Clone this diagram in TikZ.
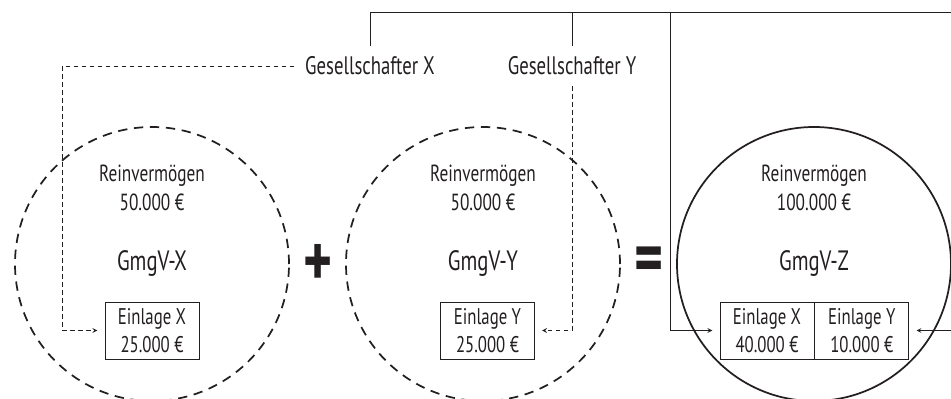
\documentclass[tikz,border=0pt]{standalone}
\usepackage{fontspec}
\usepackage{xcolor}
\setmainfont[FakeStretch=0.74]{PT Sans}
\usetikzlibrary{calc, positioning}

\definecolor{tinte}{HTML}{231F20}

\begin{document}
\begin{tikzpicture}[>=stealth, x=0.75pt, y=-0.75pt, color=tinte,
    kreis/.style={circle, minimum size=205.5pt, inner sep=0pt, line width=1.3pt,
        font=\fontsize{21}{24}\selectfont},
    teilkreis/.style={kreis, draw, dash pattern=on 7pt off 5pt},
    vermoegen/.style={align=center, font=\fontsize{17.5}{21.75}\selectfont},
    einlage/.style={draw, line width=0.6pt, minimum width=70.5pt, minimum height=42.75pt,
        inner sep=0pt, align=center, font=\fontsize{17}{21}\selectfont},
    gesellschafter/.style={inner sep=8pt, font=\fontsize{19}{22}\selectfont},
    verbindung/.style={line width=0.6pt, ->, shorten >=5.5pt},
    gestrichelt/.style={verbindung, dash pattern=on 3.5pt off 2.5pt},
    zeichen/.style={font=\fontsize{56}{56}\bfseries\selectfont}
]
    \useasboundingbox (0,0) rectangle (951,399);

    % =================================================================
    % 1. DIE DREI VERMOEGENSKREISE
    % =================================================================
    \node[teilkreis] (kreisX) at (152,264) {GmgV-X};
    \node[teilkreis] (kreisY) at (483,264) {GmgV-Y};
    \node[kreis, draw] (kreisZ) at (814,264) {GmgV-Z};

    \node[zeichen] (plus) at (318,265) {+};
    \node[zeichen] (gleich) at (649,265) {=};

    % Reinvermoegen der Gemeinschaften
    \node[vermoegen] (rvX) at (152,188) {Reinvermögen\\50.000 €};
    \node[vermoegen] (rvY) at (483,188) {Reinvermögen\\50.000 €};
    \node[vermoegen] (rvZ) at (814,188) {Reinvermögen\\100.000 €};

    % =================================================================
    % 2. EINLAGEN
    % =================================================================
    \node[einlage] (einlageX) at (152,330.5) {Einlage X\\25.000 €};
    \node[einlage] (einlageY) at (487.5,330.5) {Einlage Y\\25.000 €};
    \node[einlage] (einlageZX) at (767,330.5) {Einlage X\\40.000 €};
    \node[einlage, right=0pt of einlageZX] (einlageZY) {Einlage Y\\10.000 €};

    % =================================================================
    % 3. GESELLSCHAFTER UND VERBINDUNGEN
    % =================================================================
    \node[gesellschafter] (gesX) at (370,66) {Gesellschafter X};
    \node[gesellschafter] (gesY) at (572,66) {Gesellschafter Y};

    \coordinate (knick) at (670,12);
    \coordinate (ecke) at (960,12);

    % vorher (gestrichelt)
    \draw[gestrichelt] (gesX.west) -| ([xshift=-31.5pt]einlageX.west) -- (einlageX.west);
    \draw[gestrichelt] (gesY.south) |- (einlageY.east);

    % nachher (durchgezogen)
    \draw[verbindung] (gesX.north) |- (knick) |- (einlageZX.west);
    \draw[verbindung] (gesY.north) |- (ecke) |- (einlageZY.east);

\end{tikzpicture}
\end{document}
